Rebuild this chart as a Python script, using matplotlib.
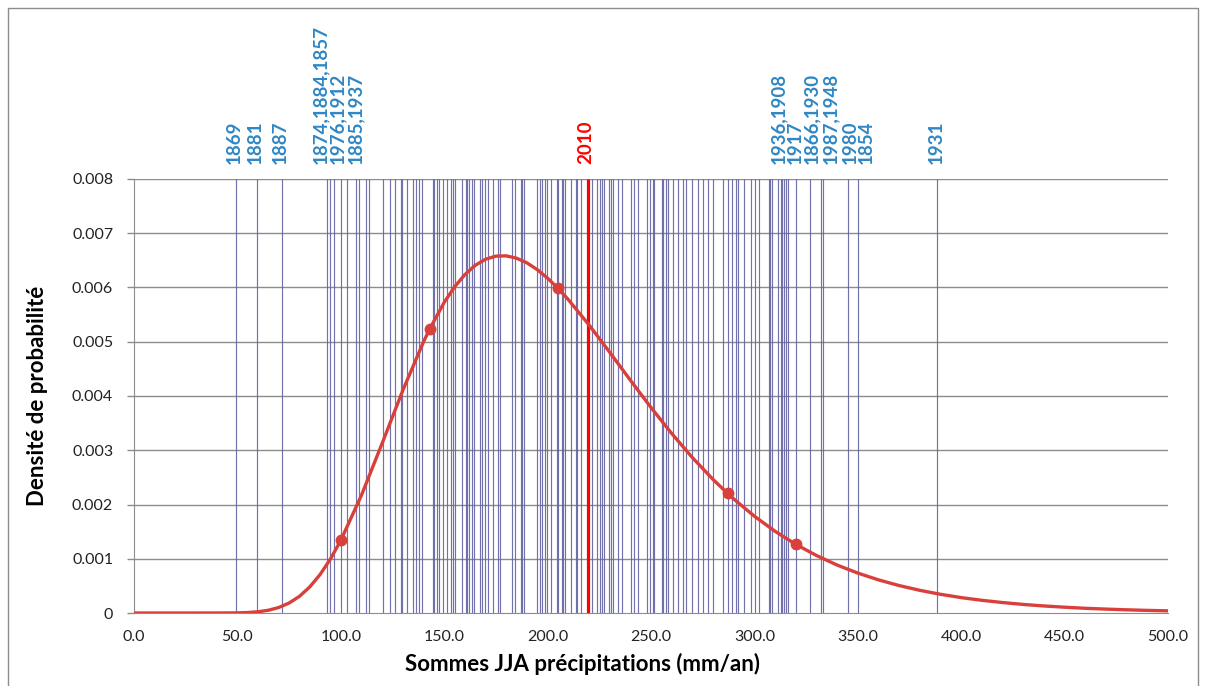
import matplotlib
matplotlib.use("Agg")
import matplotlib.pyplot as plt
from matplotlib.patches import Rectangle

plt.rcParams['font.family'] = ['Lato', 'DejaVu Sans']

# === Summer (JJA) precipitation sums, one vertical line per year ===
precip = [49.3, 59.6, 71.7,
          93.5, 94.8, 96.7, 100.2, 103.1, 107.2, 108.8, 112.0, 113.6, 120.5,
          123.8, 126.0, 129.1, 129.7, 132.1, 134.8, 136.2, 137.8, 139.4, 144.4,
          145.1, 146.4, 147.3, 149.3, 151.2, 153.2, 154.1, 155.2, 158.5, 160.4,
          161.2, 162.2, 163.3, 164.4, 167.3, 168.4, 169.7, 171.3, 173.7, 176.2,
          177.0, 182.6, 184.3,
          187.1, 187.8, 188.7, 194.7, 196.3, 197.4, 198.7, 199.9, 201.5, 204.4,
          205.2, 206.8, 207.6, 208.4, 211.2, 213.6, 214.4, 216.0, 221.6, 223.7,
          225.3, 226.4, 227.4, 229.8, 230.6, 231.7, 234.1, 236.1, 240.1, 241.8,
          243.9, 248.2, 249.5, 250.8, 251.6, 255.2, 255.9, 257.1, 258.4, 260.8,
          263.2, 265.3, 266.8, 269.7, 272.9, 275.3, 277.7, 279.9,
          285.0, 287.1, 289.0, 290.9, 292.2, 294.9, 298.2, 300.3, 302.2, 306.9,
          307.5, 308.4, 311.4, 312.7, 313.5, 314.3, 315.3, 316.4, 320.3, 327.1,
          332.4, 333.2, 345.4, 349.9, 388.1]
precip_2010 = 219.4

# === Fitted density curve ===
curve_x = [0, 10, 20, 30, 40, 50, 55, 60, 65, 70, 75, 80, 85, 90, 95, 100,
           110, 120, 130, 140, 143, 150, 155, 160, 165, 170, 175, 180, 185,
           190, 195, 200, 205, 210, 220, 230, 240, 250, 260, 270, 280, 287,
           290, 300, 310, 320, 330, 340, 350, 360, 370, 380, 390, 400, 410,
           420, 430, 440, 450, 460, 470, 480, 490, 500]
curve_y = [0, 0, 0, 0, 0.0000002, 0.000003, 0.0000089, 0.000023, 0.0000509,
           0.000102, 0.000184, 0.000307, 0.000481, 0.00071, 0.000996, 0.001339,
           0.002172, 0.003128, 0.004105, 0.004998, 0.005236, 0.005726, 0.00601,
           0.006238, 0.006408, 0.006521, 0.006578, 0.006583, 0.00654, 0.006454,
           0.006329, 0.006171, 0.005986, 0.005777, 0.005311, 0.004807, 0.004292,
           0.003788, 0.003309, 0.002865, 0.002462, 0.002206, 0.002102, 0.001784,
           0.001506, 0.001266, 0.00106, 0.000884, 0.000736, 0.000611, 0.000506,
           0.000418, 0.000345, 0.000284, 0.000234, 0.000193, 0.000158, 0.00013,
           0.000107, 0.000087, 0.000072, 0.000059, 0.000048, 0.00004]

marker_x = [100, 143, 205, 287, 320]
marker_y = [0.001339, 0.005236, 0.005986, 0.002206, 0.001266]

# === Year labels above the plot ===
year_labels = ['1869', '1881', '1887', '1874,1884,1857', '1976,1912', '1885,1937',
               '1936,1908', '1917', '1866,1930', '1987,1948', '1980', '1854', '1931']
year_label_x = [48.3, 58.8, 70.6, 90.3, 98.5, 107.2,
                311.6, 319.6, 327.7, 336.6, 346.2, 354.3, 387.7]

x_ticks = [0, 50, 100, 150, 200, 250, 300, 350, 400, 450, 500]
y_ticks = [0, 0.001, 0.002, 0.003, 0.004, 0.005, 0.006, 0.007, 0.008]
y_tick_labels = ['0', '0.001', '0.002', '0.003', '0.004', '0.005', '0.006', '0.007', '0.008']

# === Plot ===
fig = plt.figure(figsize=(12.05, 6.86), dpi=100)
ax = fig.add_axes([0.1112, 0.1064, 0.8581, 0.6327])

for y in y_ticks[1:]:
    ax.axhline(y, color='#8c8c8c', lw=1.0, zorder=1)

ax.vlines(precip, 0, 0.008, color='#6262a3', lw=0.85, alpha=0.9, zorder=2)
ax.vlines(precip_2010, 0, 0.008, color='#ff0000', lw=2.3, zorder=3)

ax.plot(curve_x, curve_y, color='#d9403b', lw=2.4, zorder=4, solid_capstyle='round')
ax.plot(marker_x, marker_y, 'o', color='#d9403b', ms=7.5, zorder=5)

for lab, x in zip(year_labels, year_label_x):
    ax.annotate(lab, (x, 0.008), xytext=(0, 15), textcoords='offset pixels',
                rotation=90, ha='center', va='bottom', fontsize=13.5,
                fontweight='bold', color='#2f87c4')
ax.annotate('2010', (218.6, 0.008), xytext=(0, 15), textcoords='offset pixels',
            rotation=90, ha='center', va='bottom', fontsize=13.5,
            fontweight='bold', color='#ff0000')

ax.set_xlim(0, 500)
ax.set_ylim(0, 0.008)
ax.set_xticks(x_ticks)
ax.set_xticklabels([f'{t:.1f}' for t in x_ticks])
ax.set_yticks(y_ticks)
ax.set_yticklabels(y_tick_labels)
ax.tick_params(axis='x', length=0, pad=12, labelsize=11.5, colors='#222222')
ax.tick_params(axis='y', length=5, width=1, color='#8c8c8c', pad=10,
               labelsize=11.5, labelcolor='#222222')

for side in ['top', 'right']:
    ax.spines[side].set_visible(False)
ax.spines['left'].set_color('#8c8c8c')
ax.spines['bottom'].set_color('#8c8c8c')

ax.set_xlabel('Sommes JJA précipitations (mm/an)', fontsize=16, fontweight='bold')
ax.xaxis.set_label_coords(0.434, -0.092)
ax.set_ylabel('Densité de probabilité', fontsize=16, fontweight='bold')
ax.yaxis.set_label_coords(-0.083, 0.5)

# chart border
fig.patches.append(Rectangle((8 / 1205, -0.01), 1190 / 1205, 1 - 8 / 686 + 0.01,
                             transform=fig.transFigure, fill=False,
                             edgecolor='#8c8c8c', lw=1.0))

fig.savefig('out.png', dpi=100)
